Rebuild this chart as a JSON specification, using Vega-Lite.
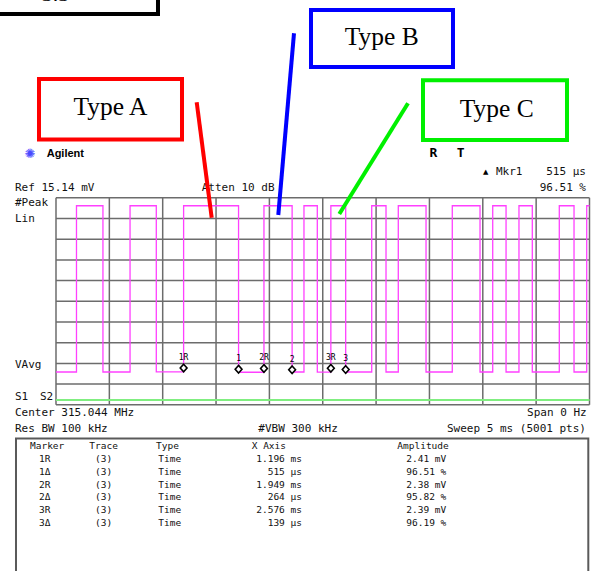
{
  "$schema": "https://vega.github.io/schema/vega-lite/v6.json",
  "width": 598,
  "height": 571,
  "autosize": {"type": "fit", "contains": "padding"},
  "padding": 0,
  "background": "white",
  "config": {"view": {"stroke": null}},
  "datasets": {
    "grid_t": [
      {"t": 0, "v": 0, "v2": 15.14}, {"t": 0.5, "v": 0, "v2": 15.14}, {"t": 1, "v": 0, "v2": 15.14},
      {"t": 1.5, "v": 0, "v2": 15.14}, {"t": 2, "v": 0, "v2": 15.14}, {"t": 2.5, "v": 0, "v2": 15.14},
      {"t": 3, "v": 0, "v2": 15.14}, {"t": 3.5, "v": 0, "v2": 15.14}, {"t": 4, "v": 0, "v2": 15.14},
      {"t": 4.5, "v": 0, "v2": 15.14}, {"t": 5, "v": 0, "v2": 15.14}
    ],
    "grid_v": [
      {"v": 0, "t": 0, "t2": 5}, {"v": 1.514, "t": 0, "t2": 5}, {"v": 3.028, "t": 0, "t2": 5},
      {"v": 4.542, "t": 0, "t2": 5}, {"v": 6.056, "t": 0, "t2": 5}, {"v": 7.57, "t": 0, "t2": 5},
      {"v": 9.084, "t": 0, "t2": 5}, {"v": 10.598, "t": 0, "t2": 5}, {"v": 12.112, "t": 0, "t2": 5},
      {"v": 13.626, "t": 0, "t2": 5}, {"v": 15.14, "t": 0, "t2": 5}
    ],
    "status": [{"t": 0, "v": 0.35}, {"t": 5, "v": 0.35}],
    "trace": [
      {"t": 0, "v": 2.4}, {"t": 0.192, "v": 14.56}, {"t": 0.44, "v": 2.4}, {"t": 0.694, "v": 14.56},
      {"t": 0.94, "v": 2.41}, {"t": 1.196, "v": 14.56}, {"t": 1.711, "v": 2.38}, {"t": 1.949, "v": 14.56},
      {"t": 2.213, "v": 2.4}, {"t": 2.324, "v": 14.56}, {"t": 2.449, "v": 2.39}, {"t": 2.576, "v": 14.56},
      {"t": 2.715, "v": 2.4}, {"t": 2.959, "v": 14.56}, {"t": 3.093, "v": 2.4}, {"t": 3.208, "v": 14.56},
      {"t": 3.468, "v": 2.4}, {"t": 3.714, "v": 14.56}, {"t": 3.974, "v": 2.4}, {"t": 4.093, "v": 14.56},
      {"t": 4.218, "v": 2.4}, {"t": 4.339, "v": 14.56}, {"t": 4.464, "v": 2.4}, {"t": 4.717, "v": 14.56},
      {"t": 4.855, "v": 2.4}, {"t": 4.974, "v": 14.56}, {"t": 5.0, "v": 14.56}
    ],
    "markers": [
      {"name": "1R", "t": 1.196, "v": 2.41}, {"name": "1", "t": 1.711, "v": 2.326},
      {"name": "2R", "t": 1.949, "v": 2.38}, {"name": "2", "t": 2.213, "v": 2.281},
      {"name": "3R", "t": 2.576, "v": 2.39}, {"name": "3", "t": 2.715, "v": 2.299}
    ],
    "readout_left": [
      {"text": "Ref 15.14 mV", "t": -0.3843, "v": 15.835},
      {"text": "Atten 10 dB", "t": 1.3655, "v": 15.835},
      {"text": "Mkr1", "t": 4.1237, "v": 17.006},
      {"text": "#Peak", "t": -0.3843, "v": 14.738},
      {"text": "Lin", "t": -0.3843, "v": 13.568},
      {"text": "VAvg", "t": -0.3843, "v": 2.911},
      {"text": "S1", "t": -0.3843, "v": 0.549},
      {"text": "S2", "t": -0.15, "v": 0.549},
      {"text": "Center 315.044 MHz", "t": -0.3843, "v": -0.622},
      {"text": "Res BW 100 kHz", "t": -0.3843, "v": -1.792},
      {"text": "#VBW 300 kHz", "t": 1.896, "v": -1.792}
    ],
    "readout_right": [
      {"text": "515 µs", "t": 4.9672, "v": 17.006},
      {"text": "96.51 %", "t": 4.9672, "v": 15.835},
      {"text": "Span 0 Hz", "t": 4.9738, "v": -0.622},
      {"text": "Sweep 5 ms (5001 pts)", "t": 4.9672, "v": -1.792}
    ],
    "brand": [{"text": "Agilent", "t": -0.0872, "v": 18.344}],
    "logo": [{"text": "✺", "t": -0.2437, "v": 18.344}],
    "status_flags": [{"text": "R", "t": 3.5361, "v": 18.395}, {"text": "T", "t": 3.7929, "v": 18.395}],
    "delta_mark": [{"text": "▲", "t": 4.0272, "v": 17.006}],
    "table_frame": [{"t": -0.3749, "t2": 4.9888, "v": -2.4649, "v2": -13}],
    "table_left": [
      {"text": "Marker", "t": -0.2437, "v": -3.05},
      {"text": "Trace", "t": 0.3121, "v": -3.05},
      {"text": "Type", "t": 0.9372, "v": -3.05},
      {"text": "X Axis", "t": 1.8341, "v": -3.05},
      {"text": "Amplitude", "t": 3.1987, "v": -3.05},
      {"text": "1R", "t": -0.1593, "v": -3.979}, {"text": "(3)", "t": 0.3655, "v": -3.979}, {"text": "Time", "t": 0.9588, "v": -3.979},
      {"text": "1Δ", "t": -0.1593, "v": -4.908}, {"text": "(3)", "t": 0.3655, "v": -4.908}, {"text": "Time", "t": 0.9588, "v": -4.908},
      {"text": "2R", "t": -0.1593, "v": -5.837}, {"text": "(3)", "t": 0.3655, "v": -5.837}, {"text": "Time", "t": 0.9588, "v": -5.837},
      {"text": "2Δ", "t": -0.1593, "v": -6.766}, {"text": "(3)", "t": 0.3655, "v": -6.766}, {"text": "Time", "t": 0.9588, "v": -6.766},
      {"text": "3R", "t": -0.1593, "v": -7.695}, {"text": "(3)", "t": 0.3655, "v": -7.695}, {"text": "Time", "t": 0.9588, "v": -7.695},
      {"text": "3Δ", "t": -0.1593, "v": -8.624}, {"text": "(3)", "t": 0.3655, "v": -8.624}, {"text": "Time", "t": 0.9588, "v": -8.624}
    ],
    "table_right": [
      {"text": "1.196 ms", "t": 2.3055, "v": -3.979}, {"text": "2.41 mV", "t": 3.6579, "v": -3.979},
      {"text": "515 µs", "t": 2.3055, "v": -4.908}, {"text": "96.51 %", "t": 3.6579, "v": -4.908},
      {"text": "1.949 ms", "t": 2.3055, "v": -5.837}, {"text": "2.38 mV", "t": 3.6579, "v": -5.837},
      {"text": "264 µs", "t": 2.3055, "v": -6.766}, {"text": "95.82 %", "t": 3.6579, "v": -6.766},
      {"text": "2.576 ms", "t": 2.3055, "v": -7.695}, {"text": "2.39 mV", "t": 3.6579, "v": -7.695},
      {"text": "139 µs", "t": 2.3055, "v": -8.624}, {"text": "96.19 %", "t": 3.6579, "v": -8.624}
    ],
    "callouts": [
      {"label": "Type A", "t": -0.1593, "t2": 1.1809, "v": 23.83, "v2": 19.405, "tc": 0.5108, "vc": 21.197},
      {"label": "Type B", "t": 2.3899, "t2": 3.7207, "v": 28.876, "v2": 24.708, "tc": 3.0525, "vc": 26.317},
      {"label": "Type C", "t": 3.4396, "t2": 4.7891, "v": 23.734, "v2": 19.368, "tc": 4.1303, "vc": 21.05}
    ],
    "leaders": [
      {"label": "Type A", "t": 1.3186, "v": 22.126, "t2": 1.4592, "v2": 13.685},
      {"label": "Type B", "t": 2.2306, "v": 27.172, "t2": 2.0834, "v2": 13.882},
      {"label": "Type C", "t": 3.299, "v": 22.053, "t2": 2.6551, "v2": 13.956}
    ],
    "slide_frame": [{"t": -0.75, "t2": 0.9559, "v": 32, "v2": 28.584, "caption": "3.3", "tc": -0.0047, "vc": 29.52}]
  },
  "encoding": {
    "x": {"field": "t", "type": "quantitative", "scale": {"domain": [-0.5248, 5.0797], "nice": false, "zero": false}, "axis": null},
    "y": {"field": "v", "type": "quantitative", "scale": {"domain": [-12.156, 29.607], "nice": false, "zero": false}, "axis": null}
  },
  "layer": [
    {
      "data": {"name": "grid_t"},
      "mark": {"type": "rule", "color": "#6c6c6c", "strokeWidth": 1.5},
      "encoding": {"y2": {"field": "v2"}}
    },
    {
      "data": {"name": "grid_v"},
      "mark": {"type": "rule", "color": "#6c6c6c", "strokeWidth": 1.5},
      "encoding": {"x2": {"field": "t2"}}
    },
    {
      "data": {"name": "status"},
      "mark": {"type": "line", "color": "#80ee80", "strokeWidth": 2.2}
    },
    {
      "data": {"name": "trace"},
      "mark": {"type": "line", "interpolate": "step-after", "color": "#ff40ff", "strokeWidth": 1.3}
    },
    {
      "data": {"name": "markers"},
      "mark": {"type": "point", "shape": "M0,-1.9L0.85,-0.95L0,0L-0.85,-0.95Z", "size": 64, "filled": true, "fill": "white", "stroke": "black", "strokeWidth": 1.6, "opacity": 1}
    },
    {
      "data": {"name": "markers"},
      "mark": {"type": "text", "font": "DejaVu Sans Mono", "fontSize": 8, "dy": -14, "color": "black"},
      "encoding": {"text": {"field": "name"}}
    },
    {
      "data": {"name": "readout_left"},
      "mark": {"type": "text", "font": "DejaVu Sans Mono", "fontSize": 11, "align": "left", "baseline": "middle", "color": "#111"},
      "encoding": {"text": {"field": "text"}}
    },
    {
      "data": {"name": "readout_right"},
      "mark": {"type": "text", "font": "DejaVu Sans Mono", "fontSize": 11, "align": "right", "baseline": "middle", "color": "#111"},
      "encoding": {"text": {"field": "text"}}
    },
    {
      "data": {"name": "brand"},
      "mark": {"type": "text", "font": "Liberation Sans", "fontWeight": "bold", "fontSize": 11, "align": "left", "baseline": "middle", "color": "black"},
      "encoding": {"text": {"field": "text"}}
    },
    {
      "data": {"name": "logo"},
      "mark": {"type": "text", "font": "DejaVu Sans", "fontSize": 13, "align": "center", "baseline": "middle", "color": "#4a4aff"},
      "encoding": {"text": {"field": "text"}}
    },
    {
      "data": {"name": "status_flags"},
      "mark": {"type": "text", "font": "DejaVu Sans Mono", "fontWeight": "bold", "fontSize": 13, "align": "center", "baseline": "middle", "color": "black"},
      "encoding": {"text": {"field": "text"}}
    },
    {
      "data": {"name": "delta_mark"},
      "mark": {"type": "text", "font": "DejaVu Sans", "fontSize": 7, "align": "center", "baseline": "middle", "color": "black"},
      "encoding": {"text": {"field": "text"}}
    },
    {
      "data": {"name": "table_frame"},
      "mark": {"type": "rect", "fill": null, "stroke": "#5a5a5a", "strokeWidth": 2, "clip": true},
      "encoding": {"x2": {"field": "t2"}, "y2": {"field": "v2"}}
    },
    {
      "data": {"name": "table_left"},
      "mark": {"type": "text", "font": "DejaVu Sans Mono", "fontSize": 9.5, "align": "left", "baseline": "middle", "color": "#111"},
      "encoding": {"text": {"field": "text"}}
    },
    {
      "data": {"name": "table_right"},
      "mark": {"type": "text", "font": "DejaVu Sans Mono", "fontSize": 9.5, "align": "right", "baseline": "middle", "color": "#111"},
      "encoding": {"text": {"field": "text"}}
    },
    {
      "data": {"name": "slide_frame"},
      "mark": {"type": "rect", "fill": null, "stroke": "black", "strokeWidth": 4, "clip": true},
      "encoding": {"x2": {"field": "t2"}, "y2": {"field": "v2"}}
    },
    {
      "data": {"name": "slide_frame"},
      "mark": {"type": "text", "font": "Liberation Serif", "fontSize": 22, "align": "center", "baseline": "alphabetic", "color": "black", "clip": true},
      "encoding": {"x": {"field": "tc", "type": "quantitative"}, "y": {"field": "vc", "type": "quantitative"}, "text": {"field": "caption"}}
    },
    {
      "data": {"name": "callouts"},
      "mark": {"type": "rect", "fill": null, "strokeWidth": 4},
      "encoding": {
        "x2": {"field": "t2"},
        "y2": {"field": "v2"},
        "stroke": {"field": "label", "type": "nominal", "scale": {"domain": ["Type A", "Type B", "Type C"], "range": ["#ff0000", "#0000ff", "#00f000"]}, "legend": null}
      }
    },
    {
      "data": {"name": "callouts"},
      "mark": {"type": "text", "font": "Liberation Serif", "fontSize": 25.5, "align": "center", "baseline": "alphabetic", "color": "black"},
      "encoding": {"x": {"field": "tc", "type": "quantitative"}, "y": {"field": "vc", "type": "quantitative"}, "text": {"field": "label"}}
    },
    {
      "data": {"name": "leaders"},
      "mark": {"type": "rule", "strokeWidth": 4, "strokeCap": "butt"},
      "encoding": {
        "x2": {"field": "t2"},
        "y2": {"field": "v2"},
        "stroke": {"field": "label", "type": "nominal", "scale": {"domain": ["Type A", "Type B", "Type C"], "range": ["#ff0000", "#0000ff", "#00f000"]}, "legend": null}
      }
    }
  ]
}
